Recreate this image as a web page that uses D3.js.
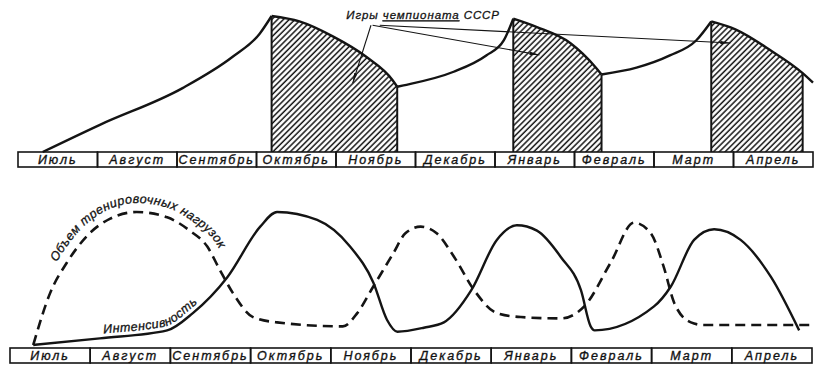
<!DOCTYPE html>
<html><head><meta charset="utf-8">
<script src="https://cdn.jsdelivr.net/npm/d3@7"></script>
<style>
html,body{margin:0;padding:0;background:#fff;}
svg{display:block;}
text{font-family:"Liberation Sans","DejaVu Sans",sans-serif;font-style:italic;fill:#111;}
</style></head><body>
<svg id="c" width="814" height="367"></svg>
<script>
// ---- data ----
const months = ["Июль","Август","Сентябрь","Октябрь","Ноябрь","Декабрь","Январь","Февраль","Март","Апрель"];
// top chart: load curve (x in month units from start of July)
const loadMonths = [0.31,1.03,2.07,2.70,3.04,3.19,3.54,3.96,4.38,4.71,4.77,4.85,5.48,5.89,6.11,6.23,6.52,6.95,7.27,7.34,7.78,8.20,8.53,8.72,9.03,9.46,9.87,10.0];
const loadValues = [0,20,47,70,87,100,96,85,70,53,48,49,59,71,82,98,92,80,62,57,62,71,82,96,90,75,58,51];
const gamePeriods = [[3.19,4.77],[6.23,7.34],[8.72,9.87]];
const gamesLabel = "Игры чемпионата СССР";
const gamesArrowTargets = [[4.21,50.7],[6.56,71.3],[8.96,80.1]];
// bottom chart
const volumeMonths = [0.29,0.50,0.71,0.96,1.25,1.58,1.96,2.24,2.46,2.62,2.78,3.03,3.33,4.15,4.33,4.53,4.78,4.93,5.12,5.32,5.54,5.79,6.07,6.37,6.87,7.16,7.49,7.78,7.99,8.15,8.28,8.49,8.65,9.99];
const volumeValues = [0,39,62,82,95,100,96,86,74,56,39,21,17,14,24,44,69,84,89,84,66,41,24,21,20,29,62,92,84,59,32,17,15,15];
const intensityMonths = [0.29,1.12,1.96,2.28,2.71,3.12,3.33,3.83,4.24,4.53,4.70,4.83,5.16,5.41,5.75,6.07,6.32,6.57,6.87,7.12,7.24,7.29,8.03,8.24,8.53,8.78,9.11,9.49,9.84];
const intensityValues = [0,5,11,24,51,89,100,94,74,47,19,10,13,17,41,79,90,86,66,41,14,11,29,44,79,87,79,51,11];
const volumeLabel = "Объем тренировочных нагрузок";
const intensityLabel = "Интенсивность";

// ---- drawing ----
const svg = d3.select("#c");
const ink = "#141414";
const defs = svg.append("defs");
const pat = defs.append("pattern").attr("id","hatch").attr("patternUnits","userSpaceOnUse")
  .attr("width",4.1).attr("height",10).attr("patternTransform","rotate(45)");
pat.append("line").attr("x1",1).attr("y1",0).attr("x2",1).attr("y2",10).attr("stroke",ink).attr("stroke-width",1.5);
defs.append("marker").attr("id","arr").attr("viewBox","0 0 10 4").attr("refX",10).attr("refY",2)
  .attr("markerWidth",10).attr("markerHeight",3.5).attr("orient","auto").attr("markerUnits","userSpaceOnUse")
  .attr("preserveAspectRatio","none")
  .append("path").attr("d","M0,0L10,2L0,4Z").attr("fill",ink);

const xT = d3.scaleLinear([0,10],[18,813]);
const yT = d3.scaleLinear([0,100],[152,16]);
const xB = d3.scaleLinear([0,10],[10,812]);
const yB = d3.scaleLinear([0,100],[345,212]);

function drawBar(x, top, h){
  const g = svg.append("g");
  months.forEach((m,i)=>{
    g.append("rect").attr("x",x(i)).attr("y",top).attr("width",x(i+1)-x(i)).attr("height",h)
      .attr("fill","none").attr("stroke",ink).attr("stroke-width",1.6);
    g.append("text").attr("x",(x(i)+x(i+1))/2).attr("y",top+h/2+4.6).attr("text-anchor","middle")
      .attr("font-size",12.5).attr("font-style","italic").attr("letter-spacing",2)
      .attr("stroke",ink).attr("stroke-width",0.35).text(m);
  });
}

function pieces(ms, vs){
  const pts = ms.map((m,i)=>[m,vs[i]]);
  const cuts=[0];
  for(let i=1;i<pts.length-1;i++){
    const a=pts[i-1][1],b=pts[i][1],c=pts[i+1][1];
    if((b>a&&b>=c)||(b<a&&b<=c)) cuts.push(i);
  }
  cuts.push(pts.length-1);
  return d3.pairs(cuts).map(([s,e])=>pts.slice(s,e+1));
}

// top chart
const topPieces = pieces(loadMonths, loadValues);
const clip = defs.append("clipPath").attr("id","games");
gamePeriods.forEach(([a,b])=>clip.append("rect").attr("x",xT(a)).attr("y",0).attr("width",xT(b)-xT(a)).attr("height",yT(0)));
const area = d3.area().x(d=>xT(d[0])).y0(yT(0)).y1(d=>yT(d[1])).curve(d3.curveMonotoneX);
const lineT = d3.line().x(d=>xT(d[0])).y(d=>yT(d[1])).curve(d3.curveMonotoneX);
const gH = svg.append("g").attr("clip-path","url(#games)");
topPieces.forEach(p=>gH.append("path").attr("d",area(p)).attr("fill","url(#hatch)"));
topPieces.forEach(p=>svg.append("path").attr("d",lineT(p)).attr("fill","none").attr("stroke",ink).attr("stroke-width",2.4).attr("stroke-linejoin","round"));
function valueAt(m){
  const i = loadMonths.findIndex(v=>Math.abs(v-m)<1e-6);
  return i>=0 ? loadValues[i] : d3.scaleLinear(loadMonths, loadValues)(m);
}
gamePeriods.forEach(([a,b])=>[a,b].forEach(m=>{
  svg.append("line").attr("x1",xT(m)).attr("x2",xT(m)).attr("y1",yT(0)).attr("y2",yT(valueAt(m)))
    .attr("stroke",ink).attr("stroke-width",2);
}));
drawBar(xT, 152, 15);

// annotation
const ann = svg.append("text").attr("x",xT(4.13)).attr("y",yT(97.6)).attr("font-size",11.5).attr("font-style","italic")
  .attr("letter-spacing",0.9).attr("stroke",ink).attr("stroke-width",0.3);
const words = gamesLabel.split(" ");
ann.append("tspan").text(words[0]+" ");
ann.append("tspan").attr("text-decoration","underline").text(words[1]);
ann.append("tspan").text(" "+words[2]);
const origins = [[4.44,93.2],[4.46,93.2],[4.55,93.2]];
gamesArrowTargets.forEach((t,i)=>{
  svg.append("line").attr("x1",xT(origins[i][0])).attr("y1",yT(origins[i][1])).attr("x2",xT(t[0])).attr("y2",yT(t[1]))
    .attr("stroke",ink).attr("stroke-width",1.1).attr("marker-end","url(#arr)");
});

// bottom chart
const lineB = d3.line().x(d=>xB(d[0])).y(d=>yB(d[1])).curve(d3.curveMonotoneX);
const volPath = svg.append("path").attr("d",lineB(volumeMonths.map((m,i)=>[m,volumeValues[i]])))
  .attr("fill","none").attr("stroke",ink).attr("stroke-width",2.6).attr("stroke-dasharray","10,6");
const intPath = svg.append("path").attr("d",lineB(intensityMonths.map((m,i)=>[m,intensityValues[i]])))
  .attr("fill","none").attr("stroke",ink).attr("stroke-width",2.4);
drawBar(xB, 348, 15);

function xToLen(node, x){
  let lo=0, hi=node.getTotalLength();
  for(let k=0;k<40;k++){ const mid=(lo+hi)/2; if(node.getPointAtLength(mid).x<x) lo=mid; else hi=mid; }
  return lo;
}
function offsetD(node, x0, x1, off){
  const L=node.getTotalLength(), l0=xToLen(node,x0), l1=xToLen(node,x1), pts=[];
  for(let i=0;i<=80;i++){
    const l=l0+(l1-l0)*i/80, p=node.getPointAtLength(l);
    const q=node.getPointAtLength(Math.min(l+2,L)), r=node.getPointAtLength(Math.max(l-2,0));
    let dx=q.x-r.x, dy=q.y-r.y; const n=Math.hypot(dx,dy)||1; dx/=n; dy/=n;
    pts.push([p.x+dy*off, p.y-dx*off]);
  }
  return d3.line().curve(d3.curveBasis)(pts);
}
function curvedLabel(id, node, x0, x1, off, txt, fs){
  const p = defs.append("path").attr("id",id).attr("d",offsetD(node,x0,x1,off));
  const len = p.node().getTotalLength();
  svg.append("text").attr("font-size",fs).attr("font-style","italic").attr("stroke",ink).attr("stroke-width",0.3)
    .append("textPath").attr("href","#"+id).attr("textLength",len*0.97).attr("lengthAdjust","spacing").text(txt);
}
curvedLabel("volL", volPath.node(), 64, 214, 9, volumeLabel, 12.5);
curvedLabel("intL", intPath.node(), 104, 203, 4.5, intensityLabel, 12.5);
</script>
</body></html>
